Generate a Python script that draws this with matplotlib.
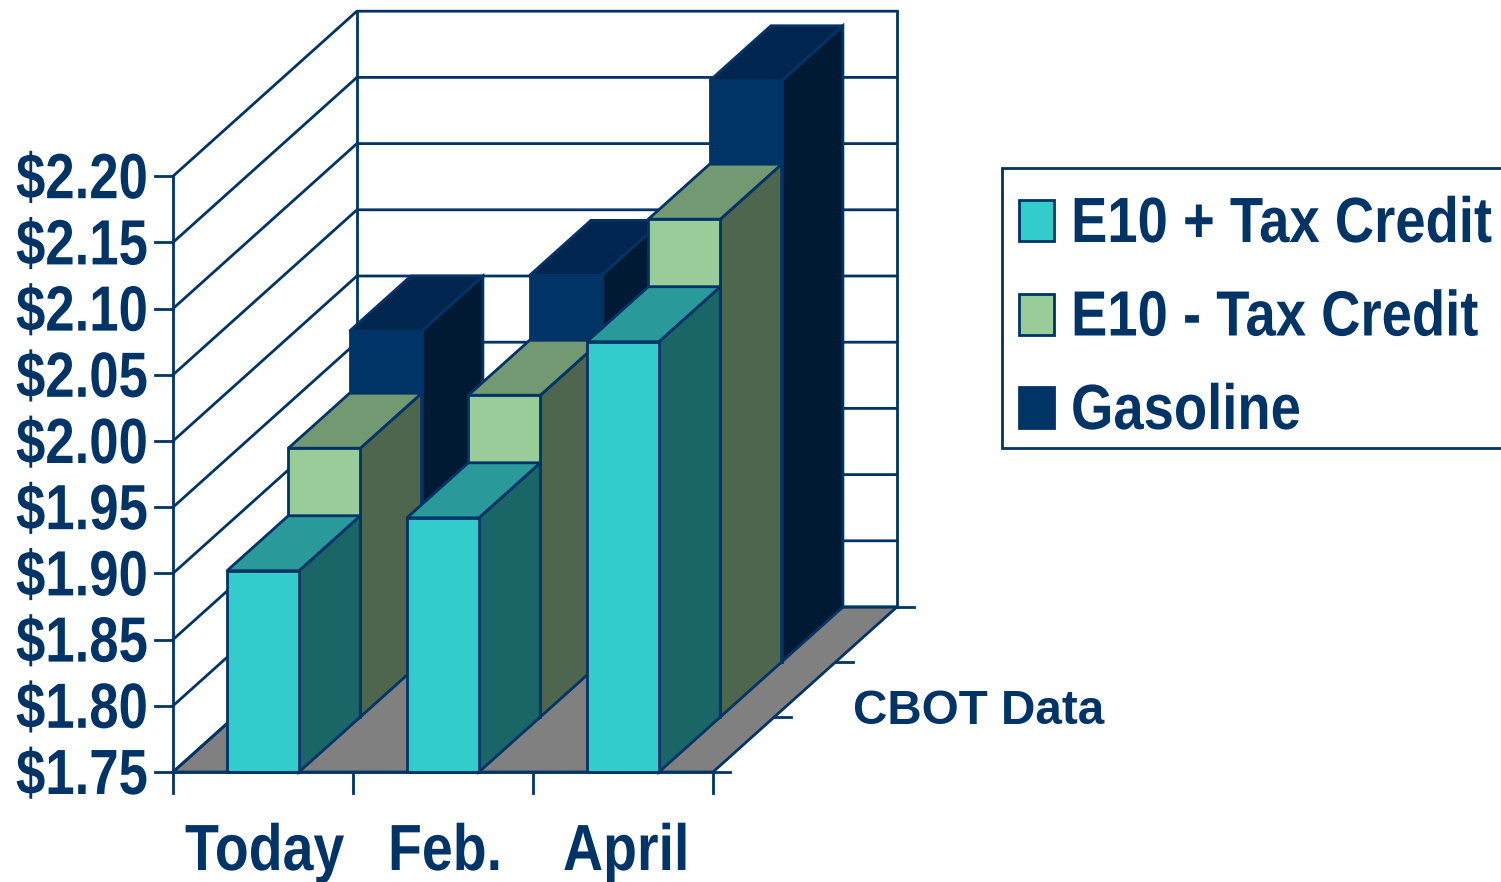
import matplotlib
matplotlib.use("Agg")
import matplotlib.pyplot as plt
from matplotlib.patches import Polygon, Rectangle
from matplotlib.patheffects import AbstractPathEffect
from matplotlib.text import Text
from matplotlib.transforms import Affine2D, Bbox

categories = ["Today", "Feb.", "April"]
category_left = [185, 388, 563]
series = ["E10 + Tax Credit", "E10 - Tax Credit", "Gasoline"]
e10_plus = [1.902, 1.942, 2.075]
e10_minus = [1.953, 1.993, 2.126]
gasoline = [2.000, 2.042, 2.189]
y_ticks = [1.75, 1.80, 1.85, 1.90, 1.95, 2.00, 2.05, 2.10, 2.15, 2.20]

# face, side, top for every series
face_colors = ["#33CCCC", "#99CC99", "#003366"]
side_colors = ["#1A6666", "#4D664D", "#001A33"]
top_colors = ["#299999", "#739973", "#002650"]
navy = "#003366"


# no narrow Arial here, so squeeze the real text when it gets drawn
class Squeeze(AbstractPathEffect):
    def __init__(self, sx):
        super().__init__()
        self.sx = sx

    def draw_path(self, renderer, gc, tpath, affine, rgbFace=None):
        renderer.draw_path(gc, tpath, Affine2D().scale(self.sx, 1) + affine, rgbFace)


class NarrowText(Text):
    sx = 1.0

    def get_window_extent(self, renderer=None, dpi=None):
        bb = super().get_window_extent(renderer, dpi)
        return Bbox.from_extents(bb.x0, bb.y0, bb.x0 + bb.width * self.sx, bb.y1)


def narrow_text(ax, x, y, s, size, sx, z=10):
    t = NarrowText(x, y, s, ha="left", va="baseline", family="Liberation Sans", weight="bold",
                   fontsize=size, color=navy, zorder=z, path_effects=[Squeeze(sx)])
    t.sx = sx
    ax.add_artist(t)


# oblique projection, everything in image pixels
x0, y0 = 173, 772
cat_w = 180
y_scale = 66.2 / 0.05
dx, dy = 61.3, -55


def pt(cat, val, depth):
    return (x0 + cat * cat_w + depth * dx, y0 - (val - 1.75) * y_scale + depth * dy)


fig = plt.figure(figsize=(15.01, 8.82), dpi=100)
ax = fig.add_axes([0, 0, 1, 1])
ax.set_xlim(0, 1501)
ax.set_ylim(882, 0)
ax.axis("off")

lw = 2.0
top_val = y_ticks[-1]
bot_val = y_ticks[0]
n_cat = len(categories)
n_dep = len(series)

# floor
ax.add_patch(Polygon([pt(0, bot_val, 0), pt(n_cat, bot_val, 0), pt(n_cat, bot_val, n_dep), pt(0, bot_val, n_dep)],
                     fc="#808080", ec=navy, lw=lw, zorder=1))

# walls and grid
for v in y_ticks:
    xs, ys = zip(pt(0, v, 0), pt(0, v, n_dep), pt(n_cat, v, n_dep))
    ax.plot(xs, ys, color=navy, lw=lw, zorder=1, solid_joinstyle="miter")
    xs, ys = zip((pt(0, v, 0)[0] - 18, pt(0, v, 0)[1]), pt(0, v, 0))
    ax.plot(xs, ys, color=navy, lw=lw, zorder=1)
    narrow_text(ax, 16, pt(0, v, 0)[1] + 22, "$%.2f" % v, 46, 0.825)
for c, d in [(0, 0), (0, n_dep), (n_cat, n_dep)]:
    xs, ys = zip(pt(c, bot_val, d), pt(c, top_val, d))
    ax.plot(xs, ys, color=navy, lw=lw, zorder=1)

# ticks below the floor
for c in range(n_cat + 1):
    xs, ys = zip(pt(c, bot_val, 0), (pt(c, bot_val, 0)[0], pt(c, bot_val, 0)[1] + 21))
    ax.plot(xs, ys, color=navy, lw=lw, zorder=1)
for d in range(n_dep + 1):
    xs, ys = zip(pt(n_cat, bot_val, d), (pt(n_cat, bot_val, d)[0] + 17, pt(n_cat, bot_val, d)[1]))
    ax.plot(xs, ys, color=navy, lw=lw, zorder=1)

for name, left in zip(categories, category_left):
    narrow_text(ax, left, 870, name, 47, 0.85)

# bars, back row first
values = [e10_plus, e10_minus, gasoline]
z = 2
for d in range(n_dep - 1, -1, -1):
    for c in range(n_cat):
        v = values[d][c]
        l, r = c + 0.3, c + 0.7
        ax.add_patch(Polygon([pt(r, bot_val, d), pt(r, bot_val, d + 1), pt(r, v, d + 1), pt(r, v, d)],
                             fc=side_colors[d], ec=navy, lw=lw, zorder=z))
        ax.add_patch(Polygon([pt(l, v, d), pt(r, v, d), pt(r, v, d + 1), pt(l, v, d + 1)],
                             fc=top_colors[d], ec=navy, lw=lw, zorder=z))
        ax.add_patch(Polygon([pt(l, bot_val, d), pt(r, bot_val, d), pt(r, v, d), pt(l, v, d)],
                             fc=face_colors[d], ec=navy, lw=lw, zorder=z))
        z += 1

# front edge of the floor on top of the bar feet
xs, ys = zip(pt(0, bot_val, 0), pt(n_cat, bot_val, 0))
ax.plot(xs, ys, color=navy, lw=lw, zorder=z)

# legend
ax.add_patch(Rectangle((1002, 168), 520, 280, fc="white", ec=navy, lw=lw, zorder=z))
for i, name in enumerate(series):
    yc = 220 + i * 93.5
    ax.add_patch(Rectangle((1019, yc - 20), 35, 41, fc=face_colors[i], ec=navy, lw=lw, zorder=z + 1))
    narrow_text(ax, 1071, yc + 22, name, 46, 0.852, z + 1)

ax.text(853, 724, "CBOT Data", ha="left", va="baseline", family="Liberation Sans", weight="bold",
        fontsize=34.3, color=navy)

fig.savefig("out.png", dpi=100)
